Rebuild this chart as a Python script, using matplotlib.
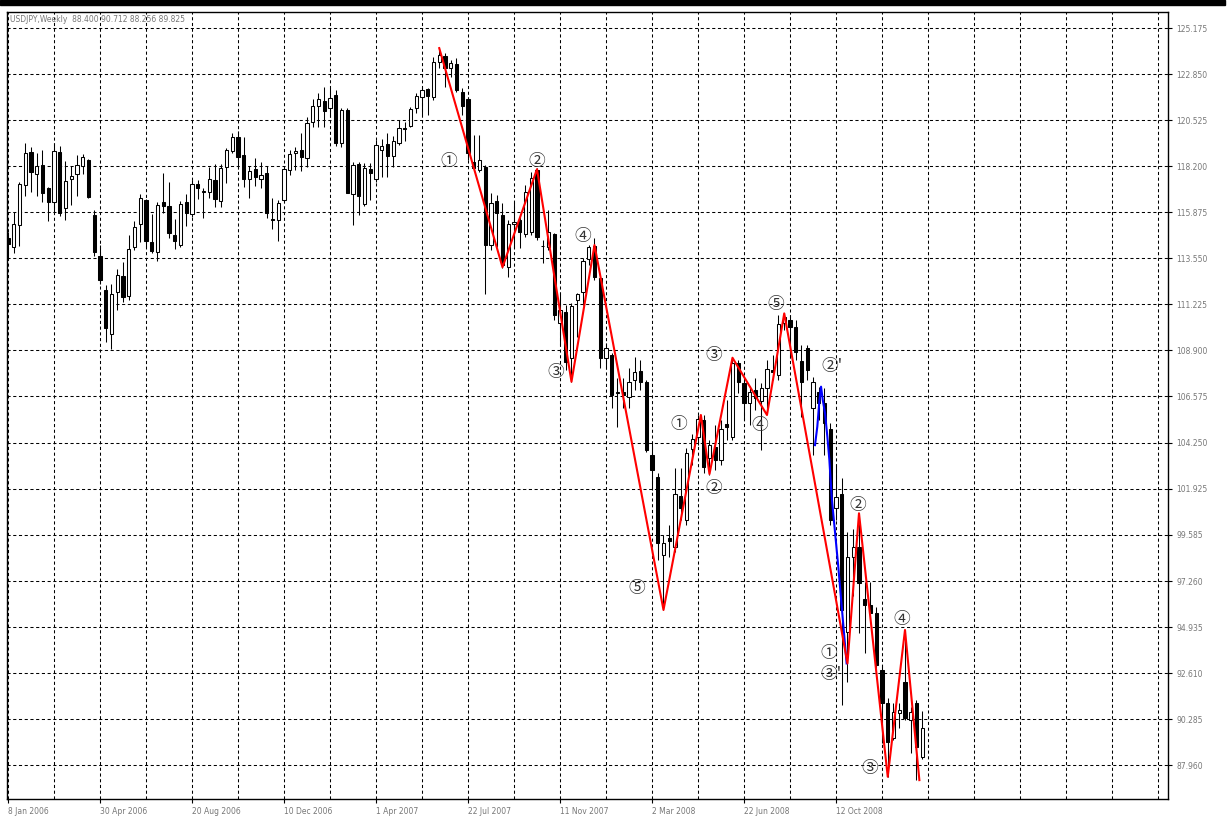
import matplotlib
matplotlib.use('Agg')
import matplotlib.pyplot as plt
from matplotlib.patches import Rectangle

# USDJPY weekly bars, index 0 = week of 8 Jan 2006
opens = [114.56, 114.10, 115.21, 117.23, 118.90, 117.79, 118.24, 117.08, 116.41, 118.90,
         116.07, 117.57, 117.79, 118.21, 118.51, 115.73, 113.67, 111.95, 109.71, 111.86,
         112.66, 111.66, 114.13, 115.27, 116.49, 114.36, 113.88, 116.39, 116.19, 114.73,
         114.22, 116.39, 115.77, 117.30, 116.91, 116.91, 117.50, 116.46, 118.14, 118.98,
         119.66, 118.76, 117.57, 118.04, 117.57, 117.84, 115.53, 115.47, 116.48, 118.01,
         118.85, 119.02, 118.63, 120.45, 121.24, 121.49, 121.12, 121.79, 119.38, 121.04,
         116.80, 118.31, 116.29, 118.06, 117.54, 119.02, 119.32, 118.73, 119.35, 120.11,
         120.24, 121.12, 121.71, 122.08, 121.71, 123.44, 123.76, 123.14, 123.36, 121.96,
         121.58, 118.43, 118.01, 118.17, 114.22, 116.44, 115.73, 113.13, 115.26, 115.48,
         114.76, 114.90, 118.01, 114.18, 114.13, 114.77, 110.30, 110.85, 108.50, 111.44,
         111.86, 113.50, 114.17, 112.54, 108.53, 108.67, 106.73, 106.80, 106.56, 107.41,
         107.87, 107.32, 103.62, 102.52, 98.57, 99.45, 98.99, 101.55, 100.34, 103.91,
         104.54, 105.39, 103.45, 104.04, 103.37, 105.19, 104.54, 108.25, 107.24, 106.23,
         106.90, 106.36, 106.99, 107.91, 107.66, 110.27, 110.43, 110.10, 108.36, 109.03,
         105.98, 106.81, 106.23, 104.92, 100.93, 101.64, 94.70, 98.49, 98.99, 96.34,
         96.05, 95.63, 92.77, 91.09, 89.32, 90.58, 92.18, 90.24, 91.09, 88.400]
highs = [114.89, 115.90, 117.42, 119.35, 119.15, 118.88, 119.02, 117.16, 119.35, 119.22,
         118.46, 118.21, 118.76, 118.80, 118.55, 115.99, 114.22, 112.20, 112.25, 113.01,
         113.35, 114.73, 115.43, 116.80, 116.53, 115.79, 116.41, 117.87, 117.42, 115.55,
         116.44, 116.80, 117.50, 117.50, 117.08, 118.17, 118.29, 118.29, 119.10, 119.86,
         119.98, 119.66, 118.21, 118.60, 118.43, 118.21, 116.58, 116.49, 118.22, 119.02,
         119.18, 119.86, 120.70, 121.58, 121.88, 122.21, 122.13, 122.04, 121.12, 121.12,
         118.43, 118.43, 118.35, 118.35, 119.52, 119.57, 119.86, 119.72, 120.53, 120.44,
         121.20, 121.88, 122.21, 122.13, 123.73, 124.16, 123.90, 123.56, 123.64, 122.13,
         121.71, 119.77, 119.77, 118.26, 116.83, 116.74, 116.33, 115.48, 116.41, 115.73,
         117.25, 117.91, 118.11, 114.47, 115.99, 114.81, 111.78, 111.19, 111.28, 111.81,
         113.55, 114.22, 114.60, 112.62, 109.26, 108.75, 107.49, 107.51, 108.00, 108.58,
         108.41, 107.41, 104.21, 102.70, 99.58, 100.09, 102.95, 102.95, 103.96, 104.68,
         105.64, 105.64, 104.38, 105.13, 105.39, 106.40, 108.58, 108.41, 107.41, 107.10,
         107.49, 107.24, 108.41, 108.67, 110.69, 110.77, 110.69, 110.43, 109.17, 109.17,
         107.56, 107.07, 107.00, 105.22, 103.12, 102.44, 99.75, 99.90, 100.68, 97.22,
         97.22, 95.96, 93.02, 91.34, 91.09, 91.09, 94.79, 90.91, 91.25, 90.712]
lows = [113.46, 113.80, 114.17, 116.69, 116.91, 116.69, 116.41, 115.45, 115.90, 115.70,
        115.48, 116.24, 116.69, 117.80, 116.58, 113.67, 112.25, 109.34, 108.96, 110.94,
        111.36, 111.44, 113.97, 114.39, 114.10, 113.83, 113.43, 115.82, 114.56, 114.00,
        114.13, 115.19, 115.65, 116.53, 115.60, 116.61, 116.12, 116.15, 117.37, 118.85,
        118.04, 117.16, 116.61, 117.20, 117.11, 115.57, 115.01, 114.44, 116.41, 117.75,
        118.01, 117.97, 118.14, 120.16, 120.16, 120.16, 120.67, 119.22, 119.18, 116.83,
        115.23, 115.73, 116.20, 116.49, 117.42, 117.67, 117.64, 118.17, 119.27, 119.49,
        120.16, 120.90, 120.78, 120.78, 121.54, 123.14, 122.21, 122.72, 121.96, 120.78,
        118.51, 118.01, 117.92, 111.75, 113.97, 114.13, 113.04, 112.62, 114.05, 114.05,
        114.64, 114.72, 114.47, 113.30, 113.97, 110.43, 109.17, 107.91, 107.32, 109.59,
        111.19, 113.21, 112.45, 107.99, 108.01, 105.98, 105.05, 105.99, 105.98, 106.90,
        106.90, 103.79, 101.85, 98.32, 95.80, 98.49, 98.74, 100.34, 100.09, 103.12,
        104.12, 102.70, 102.61, 102.86, 103.12, 104.38, 104.38, 106.75, 105.39, 105.13,
        105.89, 103.87, 105.73, 107.41, 107.41, 109.93, 108.52, 108.41, 105.55, 107.41,
        103.62, 105.39, 103.62, 100.09, 100.34, 91.00, 92.18, 96.50, 94.62, 93.61,
        95.29, 92.77, 89.07, 87.38, 89.23, 89.84, 90.24, 88.56, 87.21, 88.256]
closes = [114.27, 115.26, 117.28, 118.85, 117.92, 118.21, 116.86, 116.41, 118.95, 115.82,
          117.45, 117.70, 118.24, 118.65, 116.63, 113.88, 112.45, 110.05, 111.75, 112.71,
          111.61, 114.00, 115.11, 116.58, 114.44, 113.93, 116.22, 116.20, 114.81, 114.44,
          116.28, 115.82, 117.28, 117.11, 116.96, 117.54, 116.53, 118.09, 119.02, 119.66,
          118.68, 117.57, 117.97, 117.64, 117.74, 115.82, 115.48, 116.32, 118.04, 118.81,
          118.95, 118.68, 120.36, 121.24, 121.58, 121.00, 121.63, 119.35, 121.04, 116.86,
          118.26, 116.71, 118.12, 117.84, 119.27, 119.22, 118.73, 119.47, 120.11, 120.06,
          121.07, 121.74, 122.04, 121.74, 123.47, 123.81, 123.14, 123.39, 122.04, 121.24,
          118.85, 118.09, 118.51, 114.22, 116.36, 115.82, 113.21, 115.26, 115.40, 114.89,
          116.91, 117.59, 114.61, 114.15, 114.89, 110.69, 110.94, 108.33, 111.14, 111.75,
          113.41, 114.13, 112.62, 108.50, 109.01, 106.65, 106.81, 106.65, 107.32, 107.82,
          107.32, 103.87, 102.86, 99.16, 99.16, 99.28, 101.65, 100.93, 103.71, 104.41,
          105.42, 103.03, 104.12, 103.37, 104.92, 105.05, 108.25, 107.32, 106.23, 106.81,
          106.48, 106.99, 107.95, 107.82, 110.22, 110.59, 110.10, 108.83, 107.29, 107.91,
          107.29, 106.23, 105.22, 100.34, 101.51, 95.80, 98.49, 98.99, 97.14, 96.05,
          95.63, 93.02, 91.09, 89.15, 90.66, 90.75, 90.33, 90.66, 88.89, 89.825]

price_ticks = [125.175, 122.850, 120.525, 118.200, 115.875, 113.550, 111.225, 108.900, 106.575,
               104.250, 101.925, 99.585, 97.260, 94.935, 92.610, 90.285, 87.960]
price_labels = ['125.175', '122.850', '120.525', '118.200', '115.875', '113.550', '111.225',
                '108.900', '106.575', '104.250', '101.925', '99.585', '97.260', '94.935',
                '92.610', '90.285', '87.960']
date_ticks = [0, 16, 32, 48, 64, 80, 96, 112, 128, 144]
date_labels = ['8 Jan 2006', '30 Apr 2006', '20 Aug 2006', '10 Dec 2006', '1 Apr 2007',
               '22 Jul 2007', '11 Nov 2007', '2 Mar 2008', '22 Jun 2008', '12 Oct 2008']

# wave count (red) and the alternative sub count (blue)
wave_x = [75, 86, 92, 98, 102, 114, 120.5, 122, 126, 132, 135, 146, 148, 153, 156, 158.5]
wave_y = [124.16, 113.10, 118.05, 107.32, 114.22, 95.80, 105.64, 102.66, 108.53, 105.64,
          110.77, 93.10, 100.68, 87.38, 94.79, 87.21]
alt_x = [140.35, 140.75, 141.1, 141.4, 141.7, 142.1, 142.5, 142.85, 143.25, 143.85, 144.4,
         145.0, 145.85]
alt_y = [104.12, 105.05, 106.31, 107.07, 106.40, 105.72, 104.54, 103.37, 101.51, 99.67,
         97.98, 95.96, 93.10]

label_text = ['①', '②', '③', '④', '⑤', '①', '②', '③', '④', '⑤', "②'", '②', '①', "③'", '④', '③']
label_x = [76.6, 92.0, 95.3, 100.0, 109.3, 116.6, 122.7, 122.7, 130.7, 133.5, 143.3, 147.7,
           142.8, 143.2, 155.4, 149.8]
label_y = [118.43, 118.43, 107.77, 114.64, 96.89, 105.17, 101.94, 108.62, 105.10, 111.23,
           108.08, 101.05, 93.58, 92.55, 95.33, 87.81]

W, H = 1228, 830
fig = plt.figure(figsize=(W / 100, H / 100), dpi=100)
ax = fig.add_axes([7 / W, 31 / H, 1161 / W, 787 / H])

# candles
idx = list(range(len(opens)))
ax.vlines(idx, lows, highs, color='black', linewidth=0.75, zorder=3)
body_low = [min(o, c) for o, c in zip(opens, closes)]
body_h = [max(abs(c - o), 0.04) for o, c in zip(opens, closes)]
face = ['white' if c >= o else 'black' for o, c in zip(opens, closes)]
ax.bar(idx, body_h, bottom=body_low, width=0.6, color=face, edgecolor='black',
       linewidth=0.75, zorder=4)

ax.plot(alt_x, alt_y, color='#0000ff', linewidth=1.5, zorder=5)
ax.plot(wave_x, wave_y, color='#ff0000', linewidth=1.5, zorder=6)

for t, x, y in zip(label_text, label_x, label_y):
    ax.text(x, y, t, fontsize=12, color='#333333', ha='center', va='center',
            family=['Noto Sans CJK JP', 'DejaVu Sans'], zorder=7)

ax.set_xlim(-0.17, 201.74)
ax.set_ylim(86.257, 125.983)

ax.set_xticks(date_ticks)
ax.set_xticklabels(date_labels)
ax.set_xticks(list(range(8, 201, 8)), minor=True)
for lab in ax.get_xticklabels():
    lab.set_horizontalalignment('left')
ax.tick_params(axis='x', which='major', direction='out', length=3, width=0.8,
               labelsize=5.5, labelcolor='#777777', pad=3)
ax.tick_params(axis='x', which='minor', length=0)

ax.yaxis.tick_right()
ax.set_yticks(price_ticks)
ax.set_yticklabels(price_labels)
ax.tick_params(axis='y', direction='out', length=3, width=0.8, labelsize=5.5,
               labelcolor='#777777', pad=3)

ax.grid(True, which='both', color='black', linestyle=(0, (3, 2.5)), linewidth=0.75, zorder=0)
ax.set_axisbelow(True)
for s in ax.spines.values():
    s.set_linewidth(1.0)

ax.text(0.0028, 0.991, 'USDJPY,Weekly  88.400 90.712 88.256 89.825', transform=ax.transAxes,
        fontsize=5.5, color='#777777', ha='left', va='center')

fig.add_artist(Rectangle((0, 1 - 5 / H), 1225 / W, 5 / H, transform=fig.transFigure,
                         color='black'))

fig.savefig('out.png', dpi=100, facecolor='white')
